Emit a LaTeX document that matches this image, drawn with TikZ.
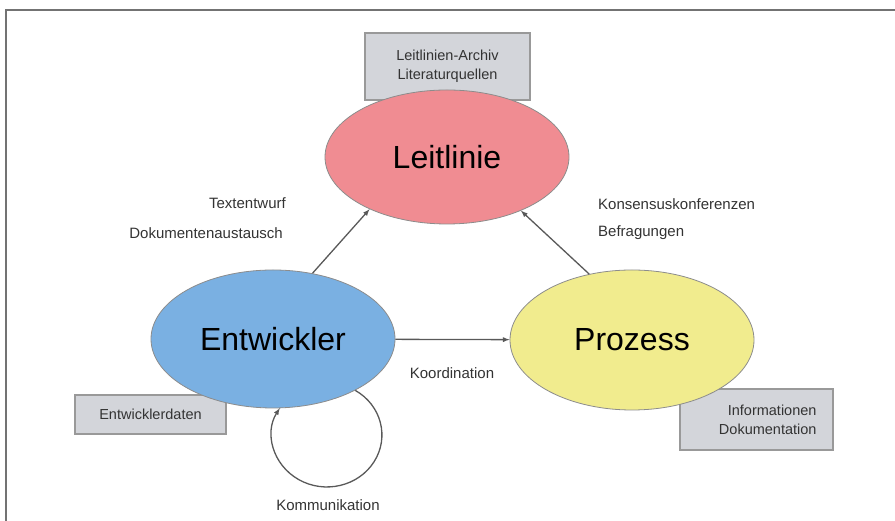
\documentclass[tikz,border=0pt]{standalone}
\usepackage{fontspec}
\setmainfont{Liberation Sans}
\usetikzlibrary{arrows,shapes.geometric}

\definecolor{leitrot}{RGB}{240,140,146}
\definecolor{entblau}{RGB}{122,176,226}
\definecolor{prozgelb}{RGB}{241,236,142}
\definecolor{kasten}{RGB}{211,213,218}

\tikzset{
  blase/.style={ellipse, draw=black!45, line width=0.8pt, minimum width=244pt,
    font=\fontsize{32}{36}\selectfont},
  kiste/.style={rectangle, draw=black!40, fill=kasten, line width=1.2pt,
    font=\fontsize{14.5}{19}\selectfont, text=black!80},
  notiz/.style={font=\fontsize{15}{19}\selectfont, text=black!80, inner sep=1pt},
  pfeil/.style={->, >=latex, draw=black!65, line width=1.3pt}
}

\begin{document}
\begin{tikzpicture}[x=1pt, y=1pt]
\useasboundingbox (0,0) rectangle (895,521);
\draw [black!55, line width=1.5pt] (895,511) -- (6,511) -- (6,0);

\node [kiste, minimum width=165pt, minimum height=67pt, align=center] (archiv) at (447.5,454.5)
  {Leitlinien-Archiv\\Literaturquellen};
\node [kiste, minimum width=151pt, minimum height=39pt] (daten) at (150.5,106.5) {Entwicklerdaten};
\node [kiste, minimum width=153pt, minimum height=61pt, align=right, text width=120pt] (info) at (756.5,101.5)
  {Informationen\\Dokumentation};

\node [blase, fill=leitrot, minimum height=134pt] (leit) at (447,364) {Leitlinie};
\node [blase, fill=entblau, minimum height=138pt] (ent) at (273,182) {Entwickler};
\node [blase, fill=prozgelb, minimum height=140pt] (proz) at (632,181) {Prozess};

\draw [pfeil] (ent.59) -- (leit.214);
\draw [pfeil] (proz.123) -- (leit.-36);
\draw [pfeil] (ent) -- (proz);
\draw [pfeil] (ent.-32) arc [start angle=59, end angle=-211, x radius=55, y radius=52];

\node [notiz, anchor=east] (entwurf) at (287,318) {Textentwurf};
\node [notiz, anchor=east] (austausch) at (284,288) {Dokumentenaustausch};
\node [notiz, anchor=west] (konsens) at (597,317) {Konsensuskonferenzen};
\node [notiz, anchor=west] (befragung) at (597,288) {Befragungen};
\node [notiz] (koord) at (452,148) {Koordination};
\node [notiz] (komm) at (328,16) {Kommunikation};
\end{tikzpicture}
\end{document}
